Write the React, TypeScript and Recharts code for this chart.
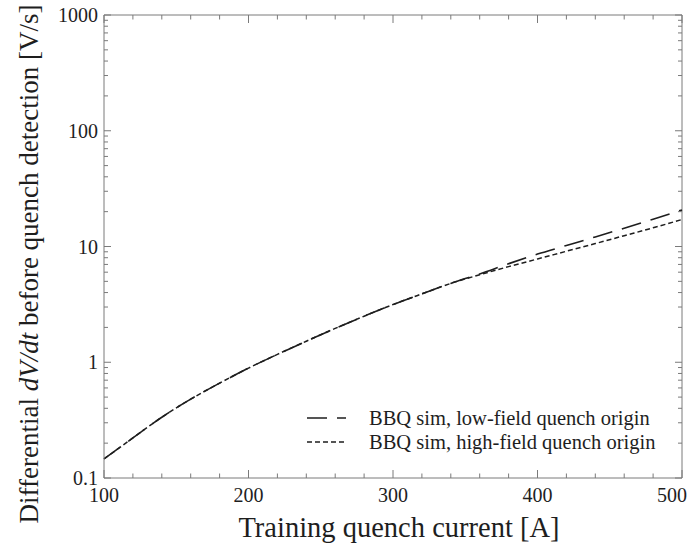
import { LineChart, Line, XAxis, YAxis, ReferenceLine, Legend } from 'recharts';

// Training quench current [A]
const currents = [100, 120, 140, 160, 180, 200, 220, 240, 260, 280, 300, 320, 340, 360, 380, 400, 420, 440, 460, 480, 500];

// dV/dt before detection [V/s]
const lowFieldRate = [0.146, 0.222, 0.335, 0.48, 0.66, 0.89, 1.17, 1.52, 1.96, 2.5, 3.15, 3.9, 4.8, 5.8, 7.1, 8.6, 10.2, 12.1, 14.4, 17.2, 20.7];
const highFieldRate = [0.146, 0.222, 0.335, 0.48, 0.66, 0.89, 1.17, 1.52, 1.96, 2.5, 3.15, 3.9, 4.8, 5.7, 6.7, 7.8, 9.1, 10.6, 12.4, 14.5, 17.1];

const xTicks = [100, 120, 140, 160, 180, 200, 220, 240, 260, 280, 300, 320, 340, 360, 380, 400, 420, 440, 460, 480, 500];
const xLabels = [100, 200, 300, 400, 500];
const yTicks = [
  0.1, 0.2, 0.3, 0.4, 0.5, 0.6, 0.7, 0.8, 0.9,
  1, 2, 3, 4, 5, 6, 7, 8, 9,
  10, 20, 30, 40, 50, 60, 70, 80, 90,
  100, 200, 300, 400, 500, 600, 700, 800, 900,
  1000,
];
const yLabels = [0.1, 1, 10, 100, 1000];

const seriesNames = ['BBQ sim, low-field quench origin', 'BBQ sim, high-field quench origin'];

const W = 689;
const H = 546;
const X_AXIS_H = 60;
const Y_AXIS_W = 90;
const margin = { top: 15, right: 7, bottom: 68 - X_AXIS_H, left: 104 - Y_AXIS_W };
const plotTop = 15;
const plotBottom = H - 68;
const plotLeft = 104;
const plotRight = W - margin.right;

const FONT = '"Liberation Serif", "Times New Roman", serif';
const FRAME = '#7a7a7a';
const INK = '#1e1e1e';

const data = currents.map((c, i) => ({ current: c, low: lowFieldRate[i], high: highFieldRate[i] }));

function XTick({ x, payload }: any) {
  const v = payload.value;
  const major = xLabels.includes(v);
  const len = major ? 8 : 4.5;
  // keep the last label inside the canvas
  const labelX = Math.min(x, W - 17);
  return (
    <g>
      <line x1={x} x2={x} y1={plotBottom} y2={plotBottom - len} stroke={FRAME} />
      <line x1={x} x2={x} y1={plotTop} y2={plotTop + len} stroke={FRAME} />
      {major && (
        <text x={labelX} y={plotBottom + 24} textAnchor="middle" fontSize={20} fontFamily={FONT} fill={INK}>
          {v}
        </text>
      )}
    </g>
  );
}

function YTick({ y, payload }: any) {
  const v = payload.value;
  const major = yLabels.includes(v);
  const len = major ? 7 : 4;
  return (
    <g>
      <line x1={plotLeft} x2={plotLeft + len} y1={y} y2={y} stroke={FRAME} />
      <line x1={plotRight} x2={plotRight - len} y1={y} y2={y} stroke={FRAME} />
      {major && (
        <text x={plotLeft - 6} y={y + 7} textAnchor="end" fontSize={20} fontFamily={FONT} fill={INK}>
          {String(v)}
        </text>
      )}
    </g>
  );
}

const dashes = ['20 10', '5 3'];

function LegendBox() {
  return (
    <div style={{ fontFamily: FONT, fontSize: 20.5, color: INK }}>
      {seriesNames.map((name, i) => (
        <div key={name} style={{ display: 'flex', alignItems: 'center', height: 24 }}>
          <svg width={69} height={24}>
            <line x1={7} x2={46} y1={12} y2={12} stroke={INK} strokeWidth={1.4} strokeDasharray={dashes[i]} />
          </svg>
          <span style={{ whiteSpace: 'nowrap' }}>{name}</span>
        </div>
      ))}
    </div>
  );
}

export default function App() {
  return (
    <div style={{ position: 'absolute', left: 0, top: 0, background: '#fff' }}>
      <LineChart width={W} height={H} data={data} margin={margin}>
        <XAxis
          dataKey="current"
          type="number"
          domain={[100, 500]}
          ticks={xTicks}
          interval={0}
          height={X_AXIS_H}
          tickLine={false}
          axisLine={{ stroke: FRAME }}
          tick={<XTick />}
          label={{
            content: () => (
              <text x={399} y={537} textAnchor="middle" fontSize={28.5} fontFamily={FONT} fill={INK}>
                Training quench current [A]
              </text>
            ),
          }}
        />
        <YAxis
          scale="log"
          domain={[0.1, 1000]}
          allowDataOverflow
          ticks={yTicks}
          interval={0}
          width={Y_AXIS_W}
          tickLine={false}
          axisLine={{ stroke: FRAME }}
          tick={<YTick />}
          label={{
            content: () => (
              <text
                x={38}
                y={264}
                transform="rotate(-90 38 264)"
                textAnchor="middle"
                fontSize={27}
                fontFamily={FONT}
                fill={INK}
              >
                Differential <tspan fontStyle="italic">dV/dt</tspan> before quench detection [V/s]
              </text>
            ),
          }}
        />
        <ReferenceLine y={1000} stroke={FRAME} />
        <ReferenceLine x={500} stroke={FRAME} />
        <Legend
          layout="vertical"
          align="center"
          verticalAlign="middle"
          content={<LegendBox />}
          wrapperStyle={{ left: 300, top: 406, width: 380 }}
        />
        <Line
          dataKey="high"
          name={seriesNames[1]}
          type="monotone"
          stroke={INK}
          strokeWidth={1.5}
          strokeDasharray={dashes[1]}
          dot={false}
          isAnimationActive={false}
        />
        <Line
          dataKey="low"
          name={seriesNames[0]}
          type="monotone"
          stroke={INK}
          strokeWidth={1.6}
          strokeDasharray={dashes[0]}
          dot={false}
          isAnimationActive={false}
        />
      </LineChart>
    </div>
  );
}
